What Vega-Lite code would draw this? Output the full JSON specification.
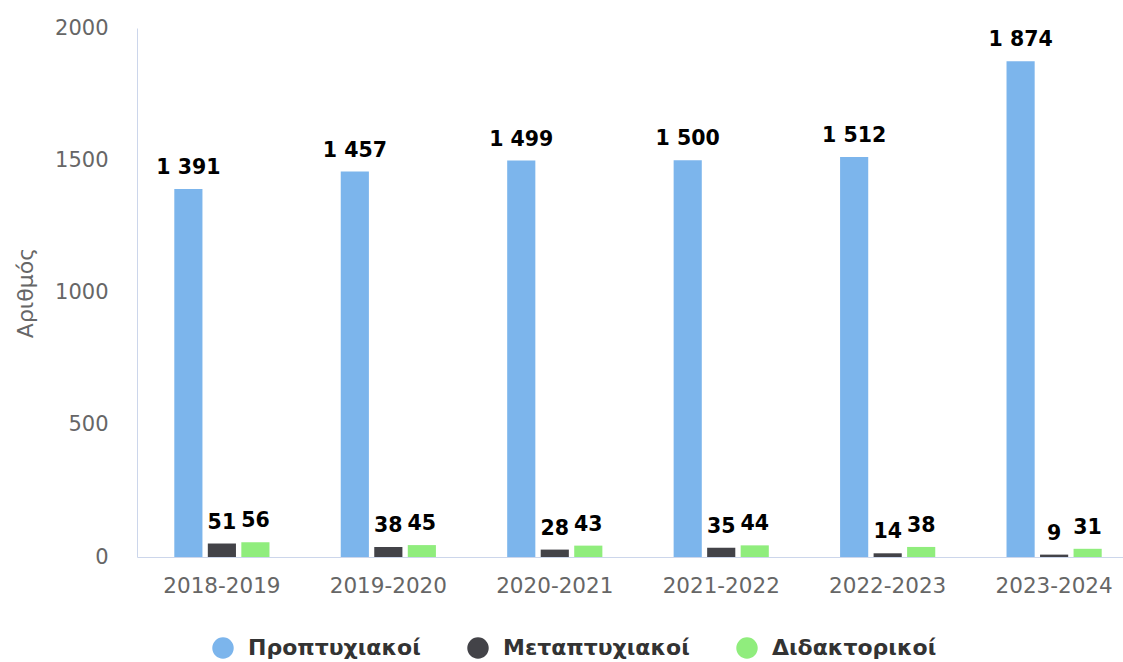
{
  "$schema": "https://vega.github.io/schema/vega-lite/v6.json",
  "width": 1002,
  "height": 529,
  "autosize": {"type": "none"},
  "padding": {"left": 137, "top": 28, "right": 0, "bottom": 105},
  "config": {
    "view": {"stroke": null},
    "font": "DejaVu Sans",
    "locale": {"number": {"decimal": ",", "thousands": " ", "grouping": [3], "currency": ["", ""]}}
  },
  "data": {
    "values": [
      {"year": "2018-2019", "type": "Προπτυχιακοί", "value": 1391},
      {"year": "2018-2019", "type": "Μεταπτυχιακοί", "value": 51},
      {"year": "2018-2019", "type": "Διδακτορικοί", "value": 56},
      {"year": "2019-2020", "type": "Προπτυχιακοί", "value": 1457},
      {"year": "2019-2020", "type": "Μεταπτυχιακοί", "value": 38},
      {"year": "2019-2020", "type": "Διδακτορικοί", "value": 45},
      {"year": "2020-2021", "type": "Προπτυχιακοί", "value": 1499},
      {"year": "2020-2021", "type": "Μεταπτυχιακοί", "value": 28},
      {"year": "2020-2021", "type": "Διδακτορικοί", "value": 43},
      {"year": "2021-2022", "type": "Προπτυχιακοί", "value": 1500},
      {"year": "2021-2022", "type": "Μεταπτυχιακοί", "value": 35},
      {"year": "2021-2022", "type": "Διδακτορικοί", "value": 44},
      {"year": "2022-2023", "type": "Προπτυχιακοί", "value": 1512},
      {"year": "2022-2023", "type": "Μεταπτυχιακοί", "value": 14},
      {"year": "2022-2023", "type": "Διδακτορικοί", "value": 38},
      {"year": "2023-2024", "type": "Προπτυχιακοί", "value": 1874},
      {"year": "2023-2024", "type": "Μεταπτυχιακοί", "value": 9},
      {"year": "2023-2024", "type": "Διδακτορικοί", "value": 31}
    ]
  },
  "encoding": {
    "x": {
      "field": "year",
      "type": "nominal",
      "sort": null,
      "scale": {"paddingInner": 0.4, "paddingOuter": 0.21},
      "axis": {
        "title": null,
        "labelAngle": 0,
        "ticks": false,
        "domainColor": "#ccd6eb",
        "labelColor": "#666666",
        "labelFontSize": 21.5,
        "labelPadding": 18
      }
    },
    "xOffset": {
      "field": "type",
      "type": "nominal",
      "sort": ["Προπτυχιακοί", "Μεταπτυχιακοί", "Διδακτορικοί"],
      "scale": {"paddingInner": 0.16, "paddingOuter": 0.07}
    },
    "y": {
      "field": "value",
      "type": "quantitative",
      "scale": {"domain": [0, 2000], "nice": false},
      "axis": {
        "title": "Αριθμός",
        "format": "d",
        "values": [0, 500, 1000, 1500, 2000],
        "grid": false,
        "ticks": false,
        "domainColor": "#ccd6eb",
        "labelColor": "#666666",
        "labelFontSize": 21,
        "labelPadding": 29,
        "titleColor": "#666666",
        "titleFontSize": 22,
        "titleFontWeight": "normal",
        "titlePadding": 17
      }
    }
  },
  "layer": [
    {
      "mark": {"type": "bar"},
      "encoding": {
        "color": {
          "field": "type",
          "type": "nominal",
          "scale": {
            "domain": ["Προπτυχιακοί", "Μεταπτυχιακοί", "Διδακτορικοί"],
            "range": ["#7cb5ec", "#434348", "#90ed7d"]
          },
          "legend": {
            "title": null,
            "orient": "none",
            "legendX": 75,
            "legendY": 609,
            "direction": "horizontal",
            "symbolType": "circle",
            "symbolSize": 460,
            "symbolStrokeWidth": 0,
            "labelFontSize": 22,
            "labelFontWeight": "bold",
            "labelColor": "#333333",
            "labelOffset": 14,
            "labelLimit": 400,
            "columnPadding": 46
          }
        }
      }
    },
    {
      "mark": {"type": "text", "baseline": "bottom", "dy": -11, "fontSize": 20.5, "fontWeight": "bold", "color": "#000000"},
      "encoding": {
        "text": {"field": "value", "type": "quantitative", "format": ",d"}
      }
    }
  ]
}
